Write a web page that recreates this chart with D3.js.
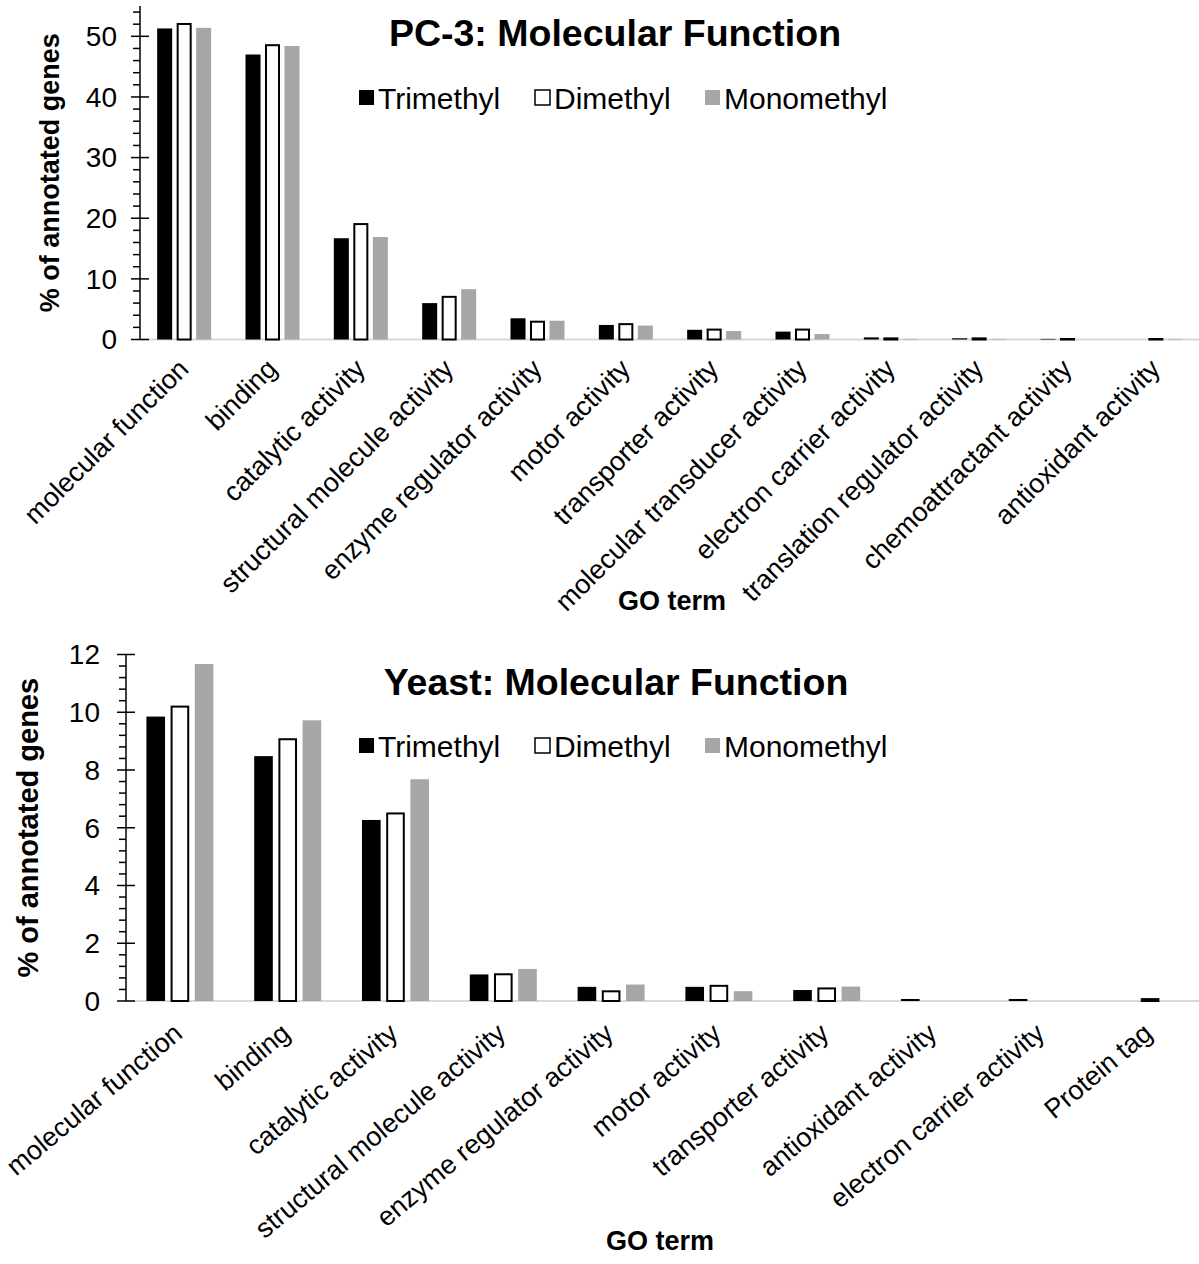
<!DOCTYPE html>
<html>
<head>
<meta charset="utf-8">
<script src="https://cdn.jsdelivr.net/npm/d3@7/dist/d3.min.js"></script>
<style>
  body { margin: 0; background: #fff; }
  svg { display: block; font-family: "Liberation Sans", Arial, sans-serif; }
</style>
</head>
<body>
<svg id="chart" width="1199" height="1264"></svg>
<script>
// Series shared by both panels
const seriesNames = ["Trimethyl", "Dimethyl", "Monomethyl"];

// PC-3 panel
const pc3Categories = [
  "molecular function", "binding", "catalytic activity", "structural molecule activity",
  "enzyme regulator activity", "motor activity", "transporter activity",
  "molecular transducer activity", "electron carrier activity",
  "translation regulator activity", "chemoattractant activity", "antioxidant activity"
];
const pc3Trimethyl   = [51.3, 47.0, 16.7, 6.0, 3.5, 2.4, 1.6, 1.3, 0.35, 0.2, 0.1, 0];
const pc3Dimethyl    = [52.2, 48.7, 19.2, 7.2, 3.1, 2.7, 1.8, 1.8, 0.35, 0.35, 0.25, 0.25];
const pc3Monomethyl  = [51.4, 48.4, 16.9, 8.3, 3.1, 2.3, 1.4, 0.9, 0.1, 0.1, 0, 0.1];
const pc3MajorTicks  = [0, 10, 20, 30, 40, 50];

// Yeast panel
const yeastCategories = [
  "molecular function", "binding", "catalytic activity", "structural molecule activity",
  "enzyme regulator activity", "motor activity", "transporter activity",
  "antioxidant activity", "electron carrier activity", "Protein tag"
];
const yeastTrimethyl  = [9.85, 8.48, 6.27, 0.92, 0.49, 0.49, 0.38, 0.07, 0.07, 0];
const yeastDimethyl   = [10.23, 9.1, 6.53, 0.96, 0.37, 0.56, 0.47, 0, 0, 0.1];
const yeastMonomethyl = [11.67, 9.72, 7.68, 1.11, 0.57, 0.34, 0.5, 0, 0, 0];
const yeastMajorTicks = [0, 2, 4, 6, 8, 10, 12];

const svg = d3.select("#chart");

const seriesFill   = { Trimethyl: "#000000", Dimethyl: "#ffffff", Monomethyl: "#a6a6a6" };
const seriesStroke = { Trimethyl: "none", Dimethyl: "#000000", Monomethyl: "none" };

function drawPanel(cfg) {
  const g = svg.append("g");
  const rows = cfg.categories.map((c, i) => ({
    cat: c,
    vals: seriesNames.map((s, k) => ({ s, v: cfg.values[k][i] }))
  }));

  const x = d3.scaleBand().domain(cfg.categories).range([cfg.left, cfg.right]);
  const half = cfg.groupWidth / 2;
  const xs = d3.scaleBand().domain(seriesNames)
    .range([x.bandwidth() / 2 - half, x.bandwidth() / 2 + half])
    .paddingInner(0.23);
  const y = d3.scaleLinear().domain([0, cfg.yMax]).range([cfg.bottom, cfg.top]);

  // x axis baseline
  g.append("line")
    .attr("x1", cfg.left).attr("x2", 1199)
    .attr("y1", y(0)).attr("y2", y(0))
    .attr("stroke", "#d9d9d9").attr("stroke-width", 2);

  // bars
  const groups = g.selectAll("g.grp").data(rows).join("g")
    .attr("class", "grp")
    .attr("transform", d => `translate(${x(d.cat)},0)`);
  groups.selectAll("rect").data(d => d.vals).join("rect")
    .attr("x", d => xs(d.s) + (d.s === "Dimethyl" ? 1 : 0))
    .attr("width", d => xs.bandwidth() - (d.s === "Dimethyl" ? 2 : 0))
    .attr("y", d => y(d.v) + (d.s === "Dimethyl" && d.v > 0 ? 1 : 0))
    .attr("height", d => {
      const h = y(0) - y(d.v);
      return d.s === "Dimethyl" && d.v > 0 ? Math.max(h - 1, 0.5) : h;
    })
    .attr("fill", d => seriesFill[d.s])
    .attr("stroke", d => d.v > 0 ? seriesStroke[d.s] : "none")
    .attr("stroke-width", 2);

  // y axis: major ticks crossing, minor ticks outside
  const yAxis = g.append("g").attr("transform", `translate(${cfg.left},0)`);
  yAxis.append("line")
    .attr("y1", y(0)).attr("y2", y(cfg.yMax))
    .attr("stroke", "#000").attr("stroke-width", 1.5);
  yAxis.selectAll("line.minor").data(cfg.minorTicks).join("line")
    .attr("class", "minor")
    .attr("x1", -7).attr("x2", 0)
    .attr("y1", d => y(d)).attr("y2", d => y(d))
    .attr("stroke", "#000").attr("stroke-width", 1.5);
  yAxis.selectAll("line.major").data(cfg.majorTicks).join("line")
    .attr("class", "major")
    .attr("x1", -9).attr("x2", 9)
    .attr("y1", d => y(d)).attr("y2", d => y(d))
    .attr("stroke", "#000").attr("stroke-width", 1.5);
  yAxis.selectAll("text").data(cfg.majorTicks).join("text")
    .attr("x", -cfg.tickGap).attr("y", d => y(d))
    .attr("dy", "0.35em")
    .attr("text-anchor", "end")
    .attr("font-size", 28)
    .text(d => d);

  // category labels
  g.selectAll("text.cat").data(cfg.categories).join("text")
    .attr("class", "cat")
    .attr("text-anchor", "end")
    .attr("font-size", 27)
    .attr("transform", d => {
      const cx = x(d) + x.bandwidth() / 2 + cfg.labelDx;
      const cy = y(0) + cfg.labelDy;
      return `translate(${cx},${cy}) rotate(${cfg.labelAngle})`;
    })
    .text(d => d);

  // axis titles
  g.append("text")
    .attr("transform", `translate(${cfg.yTitleX},${(y(0) + y(cfg.yMax)) / 2}) rotate(-90)`)
    .attr("text-anchor", "middle").attr("dy", "0.35em")
    .attr("font-size", cfg.yTitleSize).attr("font-weight", "bold")
    .text("% of annotated genes");
  g.append("text")
    .attr("x", cfg.xTitleX).attr("y", cfg.xTitleY)
    .attr("text-anchor", "middle")
    .attr("font-size", 27).attr("font-weight", "bold")
    .text("GO term");

  // chart title
  g.append("text")
    .attr("x", cfg.titleX).attr("y", cfg.titleY)
    .attr("text-anchor", "middle")
    .attr("font-size", 37.5).attr("font-weight", "bold")
    .text(cfg.title);

  // legend
  const leg = g.append("g").attr("transform", `translate(0,${cfg.legendY})`);
  const legendX = [358, 534, 704];
  seriesNames.forEach((s, i) => {
    leg.append("rect")
      .attr("x", legendX[i] + 1).attr("y", -8)
      .attr("width", 15).attr("height", 15)
      .attr("fill", seriesFill[s])
      .attr("stroke", seriesStroke[s]).attr("stroke-width", 1.5);
    leg.append("text")
      .attr("x", legendX[i] + 20).attr("y", 0)
      .attr("dy", "0.35em")
      .attr("font-size", 30)
      .text(s);
  });
}

function minorTicks(step, max, major) {
  const out = [];
  for (let v = step; v <= max + 1e-9; v += step) {
    const r = Math.round(v * 100) / 100;
    if (!major.some(m => Math.abs(m - r) < 1e-6)) out.push(r);
  }
  return out;
}

drawPanel({
  categories: pc3Categories,
  values: [pc3Trimethyl, pc3Dimethyl, pc3Monomethyl],
  left: 140, right: 1200, top: 6, bottom: 339.5, yMax: 55,
  majorTicks: pc3MajorTicks,
  minorTicks: minorTicks(2, 54, pc3MajorTicks),
  groupWidth: 54, tickGap: 23,
  labelAngle: -45, labelDx: 6, labelDy: 31,
  yTitleX: 50, yTitleSize: 27, xTitleX: 672, xTitleY: 610,
  title: "PC-3: Molecular Function", titleX: 615, titleY: 46,
  legendY: 98
});

drawPanel({
  categories: yeastCategories,
  values: [yeastTrimethyl, yeastDimethyl, yeastMonomethyl],
  left: 126, right: 1204, top: 654.5, bottom: 1001, yMax: 12,
  majorTicks: yeastMajorTicks,
  minorTicks: minorTicks(0.4, 11.6, yeastMajorTicks),
  groupWidth: 67, tickGap: 26,
  labelAngle: -40, labelDx: 4, labelDy: 35,
  yTitleX: 28, yTitleSize: 29, xTitleX: 660, xTitleY: 1250,
  title: "Yeast: Molecular Function", titleX: 616, titleY: 695,
  legendY: 746
});
</script>
</body>
</html>
